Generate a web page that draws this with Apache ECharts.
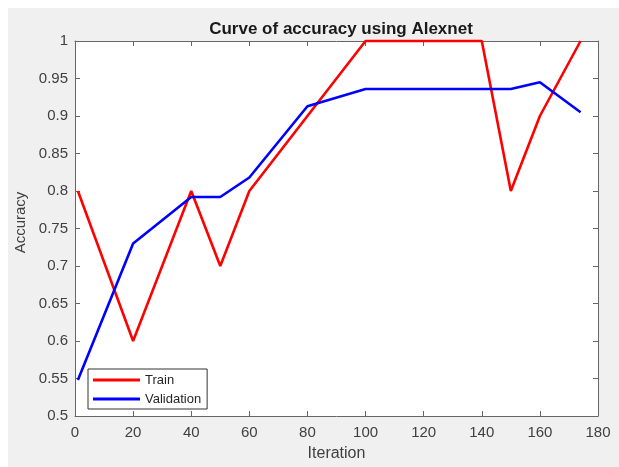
<!DOCTYPE html>
<html>
<head>
<meta charset="utf-8">
<script src="https://cdn.jsdelivr.net/npm/echarts@6/dist/echarts.min.js"></script>
<style>
html,body{margin:0;padding:0;background:#fff;}
#bg{position:absolute;left:8px;top:8px;width:611px;height:459px;background:#f0f0f0;}
#chart{position:absolute;left:0;top:0;width:619px;height:467px;}
</style>
</head>
<body>
<div id="bg"></div>
<div id="chart"></div>
<script>
const titleText = 'Curve of accuracy using Alexnet';
const xName = 'Iteration';
const yName = 'Accuracy';
const trainIter = [1, 20, 40, 50, 60, 80, 100, 140, 150, 160, 174];
const trainAcc  = [0.8, 0.6, 0.8, 0.7, 0.8, 0.9, 1.0, 1.0, 0.8, 0.9, 1.0];
const valIter   = [1, 20, 40, 50, 60, 80, 100, 150, 160, 174];
const valAcc    = [0.548, 0.73, 0.792, 0.792, 0.818, 0.913, 0.936, 0.936, 0.945, 0.905];
const seriesNames = ['Train', 'Validation'];

const axisColor = '#666666';
const labelColor = '#404040';
const font = 'Liberation Sans, Arial, Helvetica, sans-serif';

const chart = echarts.init(document.getElementById('chart'), null, {renderer: 'canvas'});
const mk = (xs, ys) => xs.map((x, i) => [x, ys[i]]);
const boxAxis = (pos) => ({
  position: pos, show: true,
  axisLine: {show: true, onZero: false, lineStyle: {color: axisColor, width: 1}},
  axisTick: {show: true, inside: true, length: 5, lineStyle: {color: axisColor}},
  axisLabel: {show: false}, splitLine: {show: false}
});
chart.setOption({
  animation: false,
  backgroundColor: 'transparent',
  title: {
    text: titleText, left: 336, top: 16, textAlign: 'center',
    textStyle: {fontFamily: font, fontSize: 17, fontWeight: 'bold', color: '#1a1a1a'}
  },
  grid: {left: 75, right: 21, top: 41, bottom: 46, show: true, backgroundColor: '#ffffff', borderWidth: 0},
  legend: {
    orient: 'vertical', left: 88, top: 369,
    data: seriesNames,
    icon: 'rect', itemWidth: 47, itemHeight: 3, itemGap: 5,
    padding: [4, 6, 3, 5],
    backgroundColor: '#ffffff', borderColor: '#333333', borderWidth: 1, borderRadius: 0,
    textStyle: {fontFamily: font, fontSize: 13, color: '#262626', lineHeight: 14}
  },
  xAxis: [
    {
      type: 'value', min: 0, max: 180, interval: 20, position: 'bottom',
      name: xName, nameLocation: 'middle', nameGap: 30,
      nameTextStyle: {fontFamily: font, fontSize: 16, color: labelColor},
      axisLine: {show: true, onZero: false, lineStyle: {color: axisColor, width: 1}},
      axisTick: {show: true, inside: true, length: 5, lineStyle: {color: axisColor}},
      axisLabel: {margin: 9, fontFamily: font, fontSize: 15, color: labelColor},
      splitLine: {show: false}
    },
    Object.assign({type: 'value', min: 0, max: 180, interval: 20}, boxAxis('top'))
  ],
  yAxis: [
    {
      type: 'value', min: 0.5, max: 1, interval: 0.05, position: 'left',
      name: yName, nameLocation: 'middle', nameGap: 47,
      nameTextStyle: {fontFamily: font, fontSize: 15, color: labelColor, padding: [0, 0, 0, 12]},
      axisLine: {show: true, onZero: false, lineStyle: {color: axisColor, width: 1}},
      axisTick: {show: true, inside: true, length: 5, lineStyle: {color: axisColor}},
      axisLabel: {margin: 7, fontFamily: font, fontSize: 15, color: labelColor,
        formatter: v => String(Math.round(v * 100) / 100)},
      splitLine: {show: false}
    },
    Object.assign({type: 'value', min: 0.5, max: 1, interval: 0.05}, boxAxis('right'))
  ],
  series: [
    {
      name: seriesNames[0], type: 'line', xAxisIndex: 0, yAxisIndex: 0,
      data: mk(trainIter, trainAcc), symbol: 'none', clip: false,
      lineStyle: {color: '#ff0000', width: 2.6}, itemStyle: {color: '#ff0000'}, z: 3
    },
    {
      name: seriesNames[1], type: 'line', xAxisIndex: 0, yAxisIndex: 0,
      data: mk(valIter, valAcc), symbol: 'none', clip: false,
      lineStyle: {color: '#0000ff', width: 2.6}, itemStyle: {color: '#0000ff'}, z: 4
    }
  ]
});
</script>
</body>
</html>
